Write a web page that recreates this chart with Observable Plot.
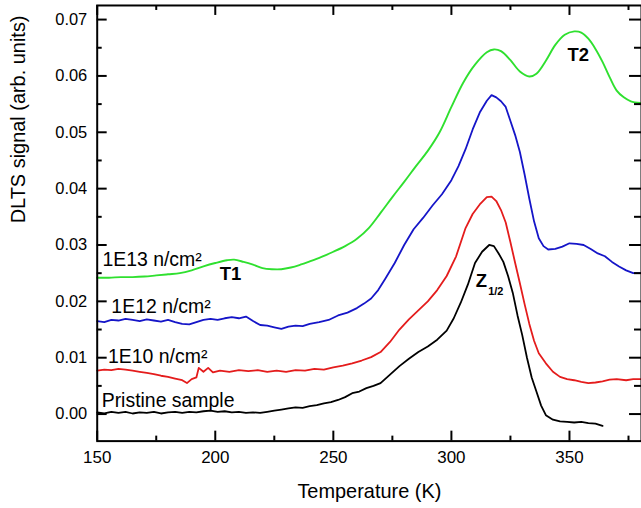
<!DOCTYPE html>
<html>
<head>
<meta charset="utf-8">
<script src="https://cdn.jsdelivr.net/npm/d3@7"></script>
<script src="https://cdn.jsdelivr.net/npm/@observablehq/plot@0.6"></script>
<style>
  html, body { margin: 0; padding: 0; background: #fff; overflow: hidden; }
  #chart { width: 641px; height: 508px; overflow: hidden; }
</style>
</head>
<body>
<div id="chart"></div>
<script>
// ---- data ----
const greenT = [150,155,160,165,170,175,180,185,190,195,200,205,208,212,216,220,224,228,232,236,240,245,250,255,260,265,270,275,280,285,290,295,300,305,310,315,318,321,325,329,333,336,340,344,348,352,355,358,361,364,367,370,373,376,380];
const greenV = [0.0242,0.0242,0.0243,0.0243,0.0244,0.0246,0.0248,0.0250,0.0255,0.0262,0.0268,0.0273,0.0274,0.0270,0.0265,0.0259,0.0257,0.0257,0.0260,0.0265,0.0271,0.0279,0.0288,0.0298,0.0311,0.0330,0.0357,0.0385,0.0412,0.0440,0.0467,0.0500,0.0545,0.0588,0.0620,0.0642,0.0647,0.0644,0.0628,0.0608,0.0599,0.0604,0.0627,0.0655,0.0673,0.0679,0.0677,0.0666,0.0648,0.0625,0.0598,0.0574,0.0562,0.0555,0.0552];

const blueT = [150,153,156,159,162,165,168,171,174,177,180,183,186,189,192,195,198,201,204,207,210,213,216,219,222,225,228,231,234,237,240,244,248,252,256,260,263,266,269,272,276,280,284,288,292,296,300,303,306,309,312,315,317,319,321,323,325,327,329,331,333,335,337,339,341,344,347,350,353,356,359,362,365,368,371,374,377,380];
const blueV = [0.0165,0.0163,0.0167,0.0166,0.0169,0.0167,0.0165,0.0168,0.0166,0.0164,0.0167,0.0163,0.0160,0.0159,0.0163,0.0167,0.0169,0.0167,0.0170,0.0172,0.0170,0.0173,0.0165,0.0158,0.0157,0.0154,0.0151,0.0155,0.0157,0.0156,0.0160,0.0163,0.0167,0.0175,0.0180,0.0188,0.0196,0.0205,0.0220,0.0240,0.0268,0.0300,0.0328,0.0348,0.0370,0.0390,0.0415,0.0440,0.0470,0.0505,0.0535,0.0556,0.0566,0.0562,0.0555,0.0545,0.0520,0.0495,0.0465,0.0425,0.0382,0.0342,0.0312,0.0298,0.0292,0.0293,0.0297,0.0303,0.0302,0.0300,0.0293,0.0285,0.0280,0.0270,0.0262,0.0255,0.0250,0.0250];

const redT = [150,153,156,159,162,165,168,171,174,177,180,183,186,188,190,192,193,195,197,199,202,206,210,214,218,222,226,230,234,238,242,246,250,254,258,262,266,270,274,278,282,286,290,294,298,302,306,309,312,315,317,319,321,323,325,327,329,331,333,335,337,340,343,346,349,352,355,358,361,364,367,370,374,377,380];
const redV = [0.0077,0.0079,0.0078,0.0080,0.0079,0.0077,0.0075,0.0073,0.0071,0.0068,0.0066,0.0063,0.0060,0.0055,0.0062,0.0065,0.0082,0.0075,0.0082,0.0074,0.0077,0.0075,0.0078,0.0076,0.0078,0.0075,0.0077,0.0075,0.0078,0.0077,0.0080,0.0079,0.0083,0.0086,0.0090,0.0095,0.0101,0.0110,0.0128,0.0150,0.0168,0.0184,0.0200,0.0220,0.0245,0.0280,0.0330,0.0355,0.0372,0.0385,0.0386,0.0378,0.0362,0.0340,0.0305,0.0268,0.0232,0.0195,0.0160,0.0130,0.0108,0.0090,0.0075,0.0066,0.0062,0.0060,0.0057,0.0055,0.0056,0.0058,0.0061,0.0062,0.0060,0.0062,0.0062];

const blackT = [150,153,156,159,162,165,168,171,174,177,180,183,186,189,192,195,198,201,204,207,210,213,216,219,222,225,228,231,234,237,240,243,246,249,252,255,258,261,264,267,270,274,278,282,286,290,294,298,301,304,307,310,313,316,318,320,322,324,326,328,330,332,334,336,338,340,343,346,349,352,355,358,361,364];
const blackV = [0.0003,0.0001,0.0004,0.0002,0.0004,0.0001,0.0003,0.0002,0.0004,0.0001,0.0003,0.0004,0.0002,0.0004,0.0003,0.0005,0.0006,0.0004,0.0005,0.0003,0.0004,0.0002,0.0003,0.0002,0.0004,0.0006,0.0008,0.0010,0.0012,0.0011,0.0014,0.0016,0.0019,0.0021,0.0025,0.0030,0.0037,0.0040,0.0046,0.0050,0.0055,0.0070,0.0085,0.0098,0.0110,0.0120,0.0132,0.0148,0.0170,0.0198,0.0230,0.0268,0.0288,0.0300,0.0298,0.0285,0.0270,0.0245,0.0215,0.0175,0.0140,0.0100,0.0065,0.0040,0.0015,-0.0002,-0.0010,-0.0013,-0.0014,-0.0015,-0.0014,-0.0016,-0.0017,-0.0021];

const seriesColors = ["#2fe02f", "#1515c8", "#e41c1c", "#000000"];

const labelText = ["1E13 n/cm²", "1E12 n/cm²", "1E10 n/cm²", "Pristine sample"];
const labelT = [152.2, 156.0, 154.6, 151.9];
const labelV = [0.0263, 0.0180, 0.0091, 0.0012];

const peakText = ["T1", "Z", "T2"];
const peakT = [201.9, 310.3, 349.2];
const peakV = [0.0237, 0.0226, 0.0626];
const subText = ["1/2"];
const subT = [315.6];
const subV = [0.0211];

const xMajor = [150, 200, 250, 300, 350];
const xMinor = [175, 225, 275, 325, 375];
const yMajor = [0, 0.01, 0.02, 0.03, 0.04, 0.05, 0.06, 0.07];
const yMinor = [0.005, 0.015, 0.025, 0.035, 0.045, 0.055, 0.065];

// ---- build ----
const toRows = (T, V) => T.map((t, i) => ({t, v: V[i]}));
const green = toRows(greenT, greenV);
const blue = toRows(blueT, blueV);
const red = toRows(redT, redV);
const black = toRows(blackT, blackV);
const labels = labelText.map((s, i) => ({s, t: labelT[i], v: labelV[i]}));
const peaks = peakText.map((s, i) => ({s, t: peakT[i], v: peakV[i]}));
const subs = subText.map((s, i) => ({s, t: subT[i], v: subV[i]}));

const W = 643, H = 508, ML = 97, MR = 0, MT = 5, MB = 66;
const PW = W - ML - MR, PH = H - MT - MB;
const TS = 10, TSm = 5;

const chart = Plot.plot({
  width: W, height: H,
  marginLeft: ML, marginRight: MR, marginTop: MT, marginBottom: MB,
  style: {fontFamily: "'Liberation Sans', Arial, sans-serif", fontSize: "16px", color: "#000", background: "#fff"},
  x: {domain: [150, 380.5]},
  y: {domain: [-0.0048, 0.0725]},
  marks: [
    Plot.lineY(green, {x: "t", y: "v", stroke: seriesColors[0], strokeWidth: 1.9, curve: "catmull-rom"}),
    Plot.lineY(blue, {x: "t", y: "v", stroke: seriesColors[1], strokeWidth: 1.8}),
    Plot.lineY(red, {x: "t", y: "v", stroke: seriesColors[2], strokeWidth: 1.8}),
    Plot.lineY(black, {x: "t", y: "v", stroke: seriesColors[3], strokeWidth: 1.8}),
    // inward ticks, all four sides
    Plot.tickX(xMajor, {x: d => d, insetTop: PH - TS, stroke: "#000", strokeWidth: 2}),
    Plot.tickX(xMinor, {x: d => d, insetTop: PH - TSm, stroke: "#000", strokeWidth: 2}),
    Plot.tickX(xMajor, {x: d => d, insetBottom: PH - TS, stroke: "#000", strokeWidth: 2}),
    Plot.tickX(xMinor, {x: d => d, insetBottom: PH - TSm, stroke: "#000", strokeWidth: 2}),
    Plot.tickY(yMajor, {y: d => d, insetRight: PW - TS, stroke: "#000", strokeWidth: 2}),
    Plot.tickY(yMinor, {y: d => d, insetRight: PW - TSm, stroke: "#000", strokeWidth: 2}),
    Plot.tickY(yMajor, {y: d => d, insetLeft: PW - TS - 2, stroke: "#000", strokeWidth: 2}),
    Plot.tickY(yMinor, {y: d => d, insetLeft: PW - TSm - 2, stroke: "#000", strokeWidth: 2}),
    Plot.frame({stroke: "#000", strokeWidth: 2}),
    Plot.axisX({ticks: xMajor, tickSize: 0, tickPadding: 10, fontSize: 17, label: null}),
    Plot.axisY({ticks: yMajor, tickSize: 0, tickPadding: 10, fontSize: 16.5, tickFormat: d3.format(".2f"), label: null}),
    Plot.text(["Temperature (K)"], {text: d => d, frameAnchor: "bottom", dy: 51, fontSize: 20, lineAnchor: "middle"}),
    Plot.text(["DLTS signal (arb. units)"], {text: d => d, frameAnchor: "left", dx: -79, rotate: -90, fontSize: 20, lineAnchor: "middle"}),
    Plot.text(labels, {x: "t", y: "v", text: "s", textAnchor: "start", lineAnchor: "bottom", fontSize: 19.5}),
    Plot.text(peaks, {x: "t", y: "v", text: "s", textAnchor: "start", lineAnchor: "bottom", fontSize: 18.5, fontWeight: "bold"}),
    Plot.text(subs, {x: "t", y: "v", text: "s", textAnchor: "start", lineAnchor: "bottom", fontSize: 11, fontWeight: "bold"})
  ]
});
document.getElementById("chart").appendChild(chart);
</script>
</body>
</html>
